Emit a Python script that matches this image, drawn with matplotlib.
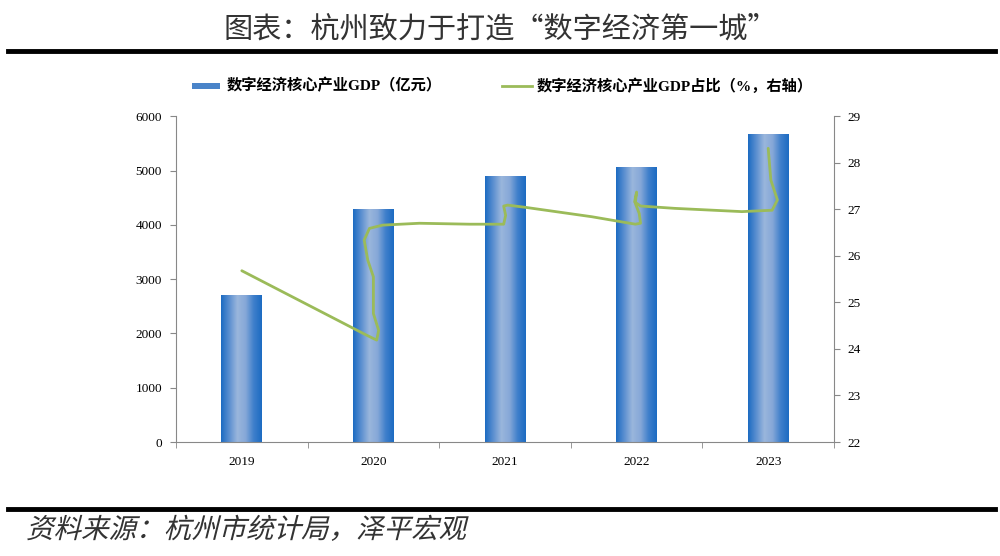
import numpy as np
import matplotlib.pyplot as plt
from matplotlib.colors import LinearSegmentedColormap
from matplotlib.lines import Line2D
from matplotlib.patches import Rectangle, PathPatch
from matplotlib.textpath import TextPath
from matplotlib.font_manager import FontProperties
from matplotlib.transforms import Affine2D, IdentityTransform

plt.rcParams['font.family'] = ['Liberation Serif', 'Noto Sans CJK SC', 'DejaVu Sans']

years = ['2019', '2020', '2021', '2022', '2023']
gdp = [2700, 4285, 4900, 5070, 5670]

# the share line (x in category units, value in %)
share_x = [0.0, 0.945, 1.025, 1.04, 1.0, 1.0, 0.957, 0.93, 0.97, 1.07, 1.35, 1.73, 1.99,
           2.005, 1.99, 2.02, 2.16, 2.66, 2.99, 3.03, 3.02, 2.99, 3.0, 2.985, 3.03, 3.29,
           3.80, 4.03, 4.07, 4.02, 4.0]
share_y = [25.68, 24.30, 24.19, 24.40, 24.76, 25.55, 25.91, 26.34, 26.59, 26.66, 26.70, 26.68, 26.68,
           26.87, 27.07, 27.09, 27.04, 26.84, 26.68, 26.70, 26.91, 27.13, 27.37, 27.16, 27.07, 27.02,
           26.95, 26.98, 27.20, 27.63, 28.31]

bar_name = '数字经济核心产业GDP（亿元）'
line_name = '数字经济核心产业GDP占比（%，右轴）'
title = '图表：杭州致力于打造“数字经济第一城”'
source = '资料来源：杭州市统计局，泽平宏观'

W, H = 1000, 556
fig = plt.figure(figsize=(10, 5.56), dpi=100)
ax = fig.add_axes([0.176, 0.205, 0.658, 0.586])
ax2 = ax.twinx()

x = np.arange(len(years))
bars = ax.bar(x, gdp, width=0.31, color='none', edgecolor='none', zorder=2)

cmap = LinearSegmentedColormap.from_list('g', ['#1c6bc2', '#5b8fd0', '#9ab6dc', '#86a8d8', '#3f7fcb', '#1c6bc2'])
grad = np.linspace(0, 1, 256).reshape(1, -1)
for b in bars:
    bx, by = b.get_x(), b.get_y()
    im = ax.imshow(grad, cmap=cmap, aspect='auto', zorder=2,
                   extent=[bx, bx + b.get_width(), by, by + b.get_height()])
    im.set_clip_path(b)

ax.set_xlim(-0.5, 4.5)
ax.set_ylim(0, 6000)
ax.set_yticks(range(0, 6001, 1000))
ax.set_xticks(x)
ax.set_xticklabels(years)
ax.set_xticks(np.arange(-0.5, 4.6, 1), minor=True)
ax.tick_params(axis='x', which='major', length=0, pad=10)
ax.tick_params(axis='x', which='minor', length=4, color='#888888', direction='out')
ax.tick_params(axis='y', length=4, color='#888888', labelsize=9.5, pad=6)
ax.tick_params(axis='x', labelsize=9.5)

ax2.plot(share_x, share_y, color='#9bbb59', lw=2.0, solid_capstyle='round', zorder=3)
ax2.set_ylim(22, 29)
ax2.set_yticks(range(22, 30))
ax2.tick_params(axis='y', length=4, color='#888888', labelsize=9.5, pad=6)

for a in (ax, ax2):
    a.spines['top'].set_visible(False)
    for s in ('left', 'right', 'bottom'):
        a.spines[s].set_color('#888888')
ax.spines['right'].set_visible(False)
ax2.spines['left'].set_visible(False)
ax2.spines['bottom'].set_visible(False)

# legend, placed by hand
leg_y = 1 - 86 / H
fig.add_artist(Rectangle((192 / W, 1 - 89 / H), 28 / W, 6 / H, transform=fig.transFigure,
                         facecolor='#4a84c9', edgecolor='none'))
fig.text(227 / W, leg_y, bar_name, ha='left', va='center', fontsize=11, weight='bold',
         family=['Liberation Serif', 'Noto Sans CJK SC'])
fig.add_artist(Line2D([502 / W, 532 / W], [leg_y, leg_y], color='#9bbb59', lw=2.0))
fig.text(537 / W, leg_y, line_name, ha='left', va='center', fontsize=11, weight='bold',
         family=['Liberation Serif', 'Noto Sans CJK SC'])

fig.text(0.5, 1 - 30 / H, title, ha='center', va='center',
         fontsize=21, family=['Noto Sans CJK SC'], color='#333333')
fig.add_artist(Line2D([0.008, 0.995], [1 - 51 / H, 1 - 51 / H], color='black', lw=3.5))
fig.add_artist(Line2D([0.008, 0.995], [1 - 509 / H, 1 - 509 / H], color='black', lw=3.5))

# slanted source note (the CJK font has no italic)
tp = TextPath((0, 0), source, size=27.5, prop=FontProperties(family='Noto Sans CJK SC'))
tr = Affine2D().skew_deg(14, 0).translate(26, 18)
fig.add_artist(PathPatch(tr.transform_path(tp), transform=IdentityTransform(),
                         facecolor='#333333', edgecolor='none'))

fig.savefig('out.png', dpi=100)
